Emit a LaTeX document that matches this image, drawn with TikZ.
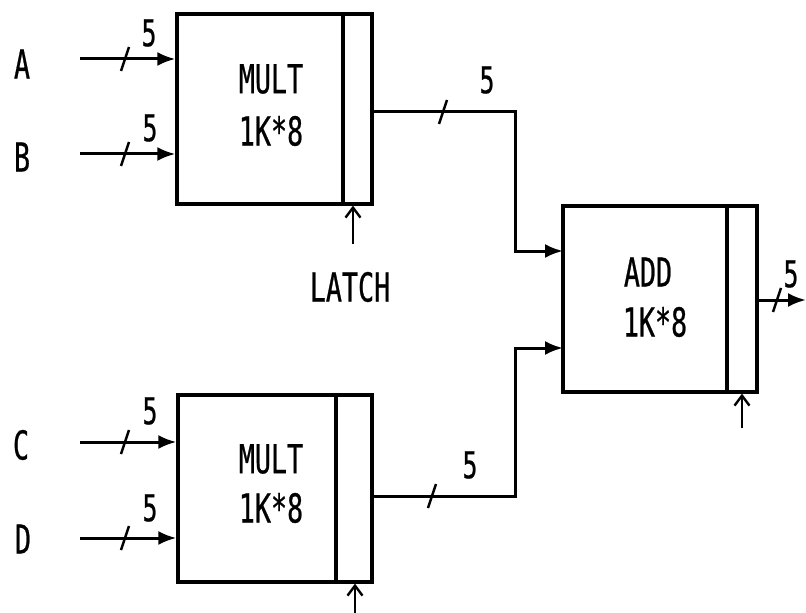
\documentclass[tikz,border=0pt]{standalone}
\usepackage{fontspec}
\newfontfamily\plotfont[FakeStretch=0.67,FakeBold=0.6]{DejaVu Sans Mono}
\usetikzlibrary{arrows.meta}
\begin{document}
\begin{tikzpicture}[x=1bp,y=-1bp,
  wire/.style={line width=3bp},
  thin wire/.style={line width=2.4bp},
  intip/.style={-{Latex[length=18bp,width=14bp]}},
  latchtip/.style={-{Straight Barb[length=10bp,width=15bp,line width=2.4bp]}},
  blk/.style={draw,line width=3.2bp,inner sep=0pt},
  lbl/.style={font=\plotfont\fontsize{40}{44}\selectfont,inner sep=0pt},
  num/.style={font=\plotfont\fontsize{37}{40}\selectfont,inner sep=0pt}]
\useasboundingbox (0,0) rectangle (806,613);
% blocks
\node[blk,minimum width=166bp,minimum height=190bp] (m1) at (260,109) {};
\node[blk,minimum width=29bp,minimum height=190bp] (r1) at (357.5,109) {};
\node[blk,minimum width=158bp,minimum height=187bp] (m2) at (257,488.5) {};
\node[blk,minimum width=36bp,minimum height=187bp] (r2) at (354,488.5) {};
\node[blk,minimum width=164bp,minimum height=186bp] (add) at (645,299) {};
\node[blk,minimum width=30bp,minimum height=186bp] (r3) at (742,299) {};
% block texts
\node[lbl] (t1a) at (271,79) {MULT};
\node[lbl] (t1b) at (271,131) {1K*8};
\node[lbl] (t2a) at (271,459) {MULT};
\node[lbl] (t2b) at (271,508) {1K*8};
\node[lbl] (t3a) at (648,272) {ADD};
\node[lbl] (t3b) at (655,322) {1K*8};
\node[lbl] (latch) at (350,287) {LATCH};
% input letters
\node[lbl] (la) at (22,64) {A};
\node[lbl] (lb) at (22,157) {B};
\node[lbl] (lc) at (21,445) {C};
\node[lbl] (ld) at (23,539) {D};
% inputs
\coordinate (A) at (80,59);
\coordinate (B) at (80,154);
\coordinate (C) at (80,442);
\coordinate (D) at (80,538);
\draw[wire,intip] (A) -- (A -| m1.west);
\draw[wire,intip] (B) -- (B -| m1.west);
\draw[wire,intip] (C) -- (C -| m2.west);
\draw[wire,intip] (D) -- (D -| m2.west);
% outputs of multipliers
\coordinate (j1) at (515,112);
\coordinate (in1) at (563,251);
\coordinate (j2) at (515,496);
\coordinate (in2) at (563,348);
\draw[wire,intip] (r1.east |- j1) -- (j1) -- (j1 |- in1) -- (in1);
\draw[wire,intip] (r2.east |- j2) -- (j2) -- (j2 |- in2) -- (in2);
% output of adder
\coordinate (o3) at (806,300);
\draw[wire,intip] (r3.east |- o3) -- (o3);
% latch arrows
\coordinate (l1) at (353,244);
\coordinate (l2) at (355,613);
\coordinate (l3) at (742,428);
\draw[thin wire,latchtip] (l1) -- (l1 |- r1.south);
\draw[thin wire,latchtip] (l2) -- (l2 |- r2.south);
\draw[thin wire,latchtip] (l3) -- (l3 |- r3.south);
% bus ticks
\foreach \x/\y in {125/59,125/154,125/442,125/538,443/112,432/496,777/300}
  \draw[thin wire] (\x-4,\y+12) -- (\x+4,\y-12);
% bus widths
\node[num] (n1) at (149,33) {5};
\node[num] (n2) at (150,128) {5};
\node[num] (n3) at (150,411) {5};
\node[num] (n4) at (150,508) {5};
\node[num] (n5) at (487,80) {5};
\node[num] (n6) at (470,465) {5};
\node[num] (n7) at (791,274) {5};
\end{tikzpicture}
\end{document}
